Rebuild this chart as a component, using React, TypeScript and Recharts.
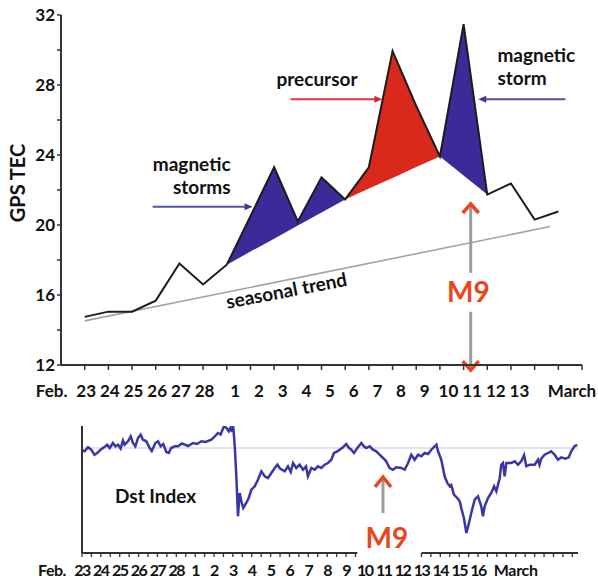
import React from 'react';
import { ComposedChart, Line, Area, XAxis, YAxis, ReferenceLine, ReferenceDot, Label } from 'recharts';

// ---------- Top panel: GPS TEC ----------
const dayLabels = ['23', '24', '25', '26', '27', '28', '1', '2', '3', '4', '5', '6', '7', '8', '9', '10', '11', '12', '13', '14', '15'];
const tecValues = [14.75, 15.05, 15.05, 15.68, 17.8, 16.6, 17.73, 20.5, 23.3, 20.2, 22.72, 21.46, 23.3, 29.94, 26.8, 23.92, 31.48, 21.74, 22.37, 20.31, 20.77];
// seasonal trend (two end points)
const trendX = [0, 19.66];
const trendY = [14.52, 19.91];
// shaded regions: start index and lower boundary values
const storms1Start = 6;
const storms1Base = [17.73, 18.48, 19.22, 19.97, 20.71, 21.46];
const precursorStart = 11;
const precursorBase = [21.46, 22.08, 22.69, 23.31, 23.92];
const storm2Start = 15;
const storm2Base = [23.92, 22.83, 21.74];
// tick labels shown under the top axis (index 19 and 20 unlabeled, "March" at the last tick)
const topAxisLabels = ['23', '24', '25', '26', '27', '28', '1', '2', '3', '4', '5', '6', '7', '8', '9', '10', '11', '12', '13', '', '', 'March'];
const tecTicks = [12, 14, 16, 18, 20, 22, 24, 26, 28, 30, 32];
const dayTicks = Array.from({ length: 22 }, (_, k) => k);

// ---------- Bottom panel: Dst index ----------
const dstT = [0, 0.14, 0.32, 0.49, 0.66, 0.81, 0.99, 1.17, 1.34, 1.47, 1.64, 1.77, 1.91, 2.05, 2.17, 2.26, 2.44, 2.58, 2.7, 2.83, 2.97, 3.11, 3.23, 3.41, 3.59, 3.7, 3.89, 4.03, 4.17, 4.31, 4.47, 4.6, 4.73, 4.92, 5.09, 5.3, 5.45, 5.62, 5.89, 6.1, 6.33, 6.55, 6.86, 7.04, 7.21, 7.35, 7.53, 7.66, 7.78, 7.88, 7.95, 8.02, 8.1, 8.18, 8.27, 8.36, 8.45, 8.55, 8.71, 8.84, 8.98, 9.16, 9.33, 9.51, 9.69, 9.86, 10.04, 10.22, 10.36, 10.5, 10.75, 10.92, 11.07, 11.19, 11.36, 11.54, 11.72, 11.88, 11.98, 12.16, 12.34, 12.51, 12.69, 12.87, 13.04, 13.22, 13.36, 13.54, 13.66, 13.84, 14.01, 14.16, 14.28, 14.42, 14.6, 14.81, 14.95, 15.07, 15.25, 15.43, 15.6, 15.78, 15.96, 16.13, 16.31, 16.49, 16.66, 16.93, 17.11, 17.29, 17.46, 17.64, 17.82, 17.99, 18.17, 18.35, 18.52, 18.7, 18.79, 18.88, 19.05, 19.23, 19.37, 19.5, 19.58, 19.72, 19.9, 20.03, 20.11, 20.25, 20.38, 20.5, 20.64, 20.82, 21.0, 21.17, 21.26, 21.35, 21.53, 21.7, 21.85, 21.97, 22.15, 22.23, 22.32, 22.41, 22.5, 22.76, 22.94, 23.12, 23.29, 23.44, 23.56, 23.74, 24.0, 24.18, 24.26, 24.35, 24.53, 24.71, 24.88, 25.06, 25.24, 25.41, 25.63, 25.81, 25.94, 26.12, 26.26];
const dstV = [-2, -3.3, 0.7, -1.7, -6.7, -5, -1.7, 0.7, 3.3, 0, 5, 1.7, 3.3, -0.5, 7.5, 3.3, 6.7, 11.7, 5, 1.7, 10, 13.3, 8.3, 6.7, 0, -3, 5, 6.7, 1.7, 4, -4, -5, 0, 1.7, 1.7, 4.5, 3.3, 2, 5, 4, 6.7, 6, 8.3, 11.7, 15, 13.5, 21.7, 20, 16.7, 20.7, 16, 21.7, 1.7, -26.7, -68.3, -45, -53.3, -60, -55, -50, -41.7, -38.3, -31.7, -23.3, -28.3, -30, -25, -20, -16.7, -20.5, -23.3, -18.3, -24, -15, -20, -16.7, -21.7, -18.5, -28.3, -20, -21.7, -18.3, -20, -16.7, -15, -11.7, -5, -3.3, -1.7, 0.7, 4, 0, -1.7, -5, 0, 5, 1.7, 0, 1.7, -1.7, -3.3, -6.7, -10, -13.3, -20, -21.7, -19.3, -20, -21.7, -15, -6.7, -11.7, -6.7, -8.3, -5, -6, -1.7, 1.7, 3.3, -3.3, -11.7, -28.3, -35, -38.3, -37, -46.7, -50, -53.3, -60, -70, -85, -76.7, -65, -51.7, -48.3, -58.3, -68.3, -58.3, -50, -45, -38.3, -43.3, -30, -16.7, -15, -28.3, -15, -15, -13.3, -16.7, -13.3, -7.3, -18.3, -16.7, -16.7, -11.7, -16.7, -10.7, -6.7, -5, -3.3, -6.7, -11.7, -9.3, -10.7, -9.3, -3.3, 1.7, 3.3];
const dstLabels: Record<number, string> = {
  0: '23', 1: '24', 2: '25', 3: '26', 4: '27', 5: '28', 6: '1', 7: '2', 8: '3', 9: '4', 10: '5', 11: '6',
  12: '7', 13: '8', 14: '9', 15: '10', 16: '11', 17: '12', 18: '13', 19: '14', 20: '15', 21: '16', 23: 'March',
};
const dstGap = [14.6, 18.0];
const dstYTicks = Array.from({ length: 26 }, (_, k) => -105 + k * 5);
const dstXTicks = Array.from({ length: 53 }, (_, k) => k * 0.5);

const FONT = 'Lato, "Open Sans", sans-serif';
const BLUE = '#3b2b98';
const RED = '#d9291c';
const M9 = '#e8461c';

const rangeAt = (i: number, start: number, base: number[]) =>
  i >= start && i < start + base.length ? [base[i - start], tecValues[i]] : null;

const tecRows = dayLabels.map((d, i) => ({
  i,
  day: d,
  tec: tecValues[i],
  s1: rangeAt(i, storms1Start, storms1Base),
  pre: rangeAt(i, precursorStart, precursorBase),
  s2: rangeAt(i, storm2Start, storm2Base),
}));
const trendRows = trendX.map((x, k) => ({ i: x, trend: trendY[k] }));
const dstRows = dstT.map((t, k) => ({ t, dst: dstV[k] }));

type ArrowOpts = { color: string; width: number; head: 'tri' | 'chev'; headColor?: string; L?: number; H?: number; hw?: number };
const makeArrow = (o: ArrowOpts) => (p: any) => {
  const { x1, y1, x2, y2 } = p;
  const dx = x2 - x1;
  const dy = y2 - y1;
  const len = Math.hypot(dx, dy) || 1;
  const ux = dx / len;
  const uy = dy / len;
  const nx = -uy;
  const ny = ux;
  const L = o.L ?? 8;
  const H = o.H ?? 4;
  const bx = x2 - ux * L;
  const by = y2 - uy * L;
  if (o.head === 'tri') {
    return (
      <g>
        <line x1={x1} y1={y1} x2={bx + ux} y2={by + uy} stroke={o.color} strokeWidth={o.width} />
        <polygon points={`${x2},${y2} ${bx + nx * H},${by + ny * H} ${bx - nx * H},${by - ny * H}`} fill={o.headColor ?? o.color} />
      </g>
    );
  }
  return (
    <g>
      <line x1={x1} y1={y1} x2={x2 - ux * 3} y2={y2 - uy * 3} stroke={o.color} strokeWidth={o.width} />
      <polyline
        points={`${bx + nx * H},${by + ny * H} ${x2},${y2} ${bx - nx * H},${by - ny * H}`}
        fill="none"
        stroke={o.headColor}
        strokeWidth={o.hw ?? 3.5}
      />
    </g>
  );
};

type TextOpts = { size?: number; anchor?: 'start' | 'middle' | 'end'; color?: string; rotate?: number };
const makeText = (text: string, o: TextOpts = {}) => (p: any) => (
  <text
    x={p.cx}
    y={p.cy}
    textAnchor={o.anchor ?? 'start'}
    fontFamily={FONT}
    fontWeight={700}
    fontSize={o.size ?? 19}
    fill={o.color ?? '#111'}
    transform={o.rotate ? `rotate(${o.rotate} ${p.cx} ${p.cy})` : undefined}
  >
    {text}
  </text>
);

// label offsets relative to their tick marks (the March day labels sit a little right of their ticks)
const TopTick = (p: any) => {
  const v = p.payload.value;
  const label = topAxisLabels[v] ?? '';
  const dx = label === 'March' ? -10 : v < 6 ? 1.5 : 8.5;
  return (
    <g>
      {v === 0 && (
        <text x={p.x - 33} y={p.y + 27} textAnchor="middle" fontFamily={FONT} fontWeight={700} fontSize={17} fill="#111">
          Feb.
        </text>
      )}
      <text x={p.x + dx} y={p.y + 27} textAnchor="middle" fontFamily={FONT} fontWeight={700} fontSize={17} fill="#111">
        {label}
      </text>
    </g>
  );
};

const BottomTick = (p: any) => {
  const v = p.payload.value;
  const inGap = v > dstGap[0] && v < dstGap[1];
  const label = Number.isInteger(v) ? dstLabels[v] : undefined;
  const numeric = label !== undefined && /^\d+$/.test(label);
  return (
    <g>
      {!inGap && <line x1={p.x} y1={p.y} x2={p.x} y2={p.y + 4} stroke="#333" strokeWidth={1.3} />}
      {v === 0 && (
        <text x={p.x - 30} y={p.y + 23} textAnchor="middle" fontFamily={FONT} fontWeight={700} fontSize={16} letterSpacing={-0.5} fill="#111">
          Feb.
        </text>
      )}
      {label && (
        <text
          x={p.x}
          y={p.y + 23}
          textAnchor="middle"
          fontFamily={FONT}
          fontWeight={700}
          fontSize={16}
          letterSpacing={numeric ? -1.5 : -0.3}
          fill="#111"
        >
          {label}
        </text>
      )}
    </g>
  );
};

const GpsLabel = (p: any) => {
  const vb = p.viewBox;
  const cx = vb.x + 17;
  const cy = vb.y + vb.height / 2 - 7;
  return (
    <text x={cx} y={cy} transform={`rotate(-90 ${cx} ${cy})`} textAnchor="middle" dominantBaseline="central" fontFamily={FONT} fontWeight={700} fontSize={20} fill="#111">
      GPS TEC
    </text>
  );
};

export default function App() {
  return (
    <div style={{ position: 'absolute', left: 0, top: 0, width: 598, height: 582, background: '#fff' }}>
      <ComposedChart width={598} height={410} data={tecRows} margin={{ top: 15, right: 16, bottom: 0, left: 0 }}>
        <XAxis
          xAxisId="d"
          dataKey="i"
          type="number"
          domain={[-1, 21]}
          allowDataOverflow
          ticks={dayTicks}
          interval={0}
          tickSize={5}
          tickMargin={0}
          height={45}
          axisLine={{ stroke: '#333', strokeWidth: 2 }}
          tickLine={{ stroke: '#333', strokeWidth: 1.5 }}
          tick={(p: any) => <TopTick {...p} />}
        />
        <YAxis
          type="number"
          domain={[12, 32]}
          ticks={tecTicks}
          interval={0}
          tickSize={4}
          tickMargin={2}
          width={61}
          tickFormatter={(v: number) => (v % 4 === 0 ? String(v) : '')}
          tick={{ fontFamily: FONT, fontWeight: 700, fontSize: 17, fill: '#111' }}
          axisLine={{ stroke: '#333', strokeWidth: 2 }}
          tickLine={{ stroke: '#333', strokeWidth: 1.5 }}
        >
          <Label content={GpsLabel} />
        </YAxis>

        <Line xAxisId="d" data={trendRows} dataKey="trend" type="linear" stroke="#a3a3a3" strokeWidth={1.6} dot={false} isAnimationActive={false} />
        <Area xAxisId="d" dataKey="s1" type="linear" stroke="none" fill={BLUE} fillOpacity={1} isAnimationActive={false} connectNulls={false} />
        <Area xAxisId="d" dataKey="pre" type="linear" stroke="none" fill={RED} fillOpacity={1} isAnimationActive={false} connectNulls={false} />
        <Area xAxisId="d" dataKey="s2" type="linear" stroke="none" fill={BLUE} fillOpacity={1} isAnimationActive={false} connectNulls={false} />
        <Line xAxisId="d" dataKey="tec" type="linear" stroke="#1c1c1c" strokeWidth={2} dot={false} isAnimationActive={false} />

        {/* annotation arrows */}
        <ReferenceLine xAxisId="d" ifOverflow="visible" segment={[{ x: 2.87, y: 21.05 }, { x: 7.09, y: 21.05 }]} shape={makeArrow({ color: '#5553a0', width: 2, head: 'tri', headColor: '#3e3c8e', L: 8, H: 3.5 })} />
        <ReferenceLine xAxisId="d" ifOverflow="visible" segment={[{ x: 8.69, y: 27.19 }, { x: 12.57, y: 27.19 }]} shape={makeArrow({ color: '#e4363f', width: 2, head: 'tri', headColor: '#cf2a3a', L: 8, H: 3.5 })} />
        <ReferenceLine xAxisId="d" ifOverflow="visible" segment={[{ x: 20.3, y: 27.19 }, { x: 16.62, y: 27.19 }]} shape={makeArrow({ color: '#5553a0', width: 2, head: 'tri', headColor: '#3e3c8e', L: 8, H: 3.5 })} />
        <ReferenceLine xAxisId="d" ifOverflow="visible" segment={[{ x: 16.3, y: 17.27 }, { x: 16.3, y: 21.2 }]} shape={makeArrow({ color: '#9c9c9c', width: 3, head: 'chev', headColor: M9, L: 9, H: 8 })} />
        <ReferenceLine xAxisId="d" ifOverflow="visible" segment={[{ x: 16.3, y: 15.04 }, { x: 16.3, y: 11.71 }]} shape={makeArrow({ color: '#9c9c9c', width: 3, head: 'chev', headColor: M9, L: 9, H: 8 })} />

        {/* annotation texts */}
        <ReferenceDot xAxisId="d" ifOverflow="visible" x={6.16} y={23.06} r={0} shape={makeText('magnetic', { anchor: 'end' })} />
        <ReferenceDot xAxisId="d" ifOverflow="visible" x={6.16} y={21.8} r={0} shape={makeText('storms', { anchor: 'end' })} />
        <ReferenceDot xAxisId="d" ifOverflow="visible" x={8.1} y={27.93} r={0} shape={makeText('precursor')} />
        <ReferenceDot xAxisId="d" ifOverflow="visible" x={17.43} y={29.31} r={0} shape={makeText('magnetic')} />
        <ReferenceDot xAxisId="d" ifOverflow="visible" x={17.43} y={27.99} r={0} shape={makeText('storm')} />
        <ReferenceDot xAxisId="d" ifOverflow="visible" x={6.03} y={15.21} r={0} shape={makeText('seasonal trend', { size: 19, rotate: -10.8 })} />
        <ReferenceDot xAxisId="d" ifOverflow="visible" x={16.2} y={15.61} r={0} shape={makeText('M9', { size: 28, anchor: 'middle', color: M9 })} />
      </ComposedChart>

      <ComposedChart width={598} height={172} data={dstRows} margin={{ top: 16, right: 20, bottom: 0, left: 0 }}>
        <XAxis
          dataKey="t"
          type="number"
          domain={[0, 26.3]}
          allowDataOverflow
          ticks={dstXTicks}
          interval={0}
          axisLine={false}
          tickLine={false}
          tickSize={0}
          tickMargin={0}
          height={29}
          tick={(p: any) => <BottomTick {...p} />}
        />
        <YAxis
          type="number"
          domain={[-105, 22]}
          allowDataOverflow
          ticks={dstYTicks}
          interval={0}
          tick={false}
          tickSize={4}
          width={82}
          axisLine={{ stroke: '#333', strokeWidth: 2 }}
          tickLine={{ stroke: '#333', strokeWidth: 1.3 }}
        />
        <ReferenceLine y={0} stroke="#c6c6ee" strokeWidth={1.2} />
        <ReferenceLine ifOverflow="visible" segment={[{ x: 0, y: -105 }, { x: dstGap[0], y: -105 }]} stroke="#333" strokeWidth={2} />
        <ReferenceLine ifOverflow="visible" segment={[{ x: dstGap[1], y: -105 }, { x: 26.3, y: -105 }]} stroke="#333" strokeWidth={2} />
        <Line dataKey="dst" type="linear" stroke="#3a36a6" strokeWidth={2.5} dot={false} isAnimationActive={false} />
        <ReferenceLine ifOverflow="visible" segment={[{ x: 15.96, y: -65 }, { x: 15.96, y: -29 }]} shape={makeArrow({ color: '#9c9c9c', width: 3, head: 'chev', headColor: M9, L: 10, H: 8 })} />
        <ReferenceDot ifOverflow="visible" x={1.75} y={-55} r={0} shape={makeText('Dst Index')} />
        <ReferenceDot ifOverflow="visible" x={16.17} y={-100} r={0} shape={makeText('M9', { size: 28, anchor: 'middle', color: M9 })} />
      </ComposedChart>
    </div>
  );
}
